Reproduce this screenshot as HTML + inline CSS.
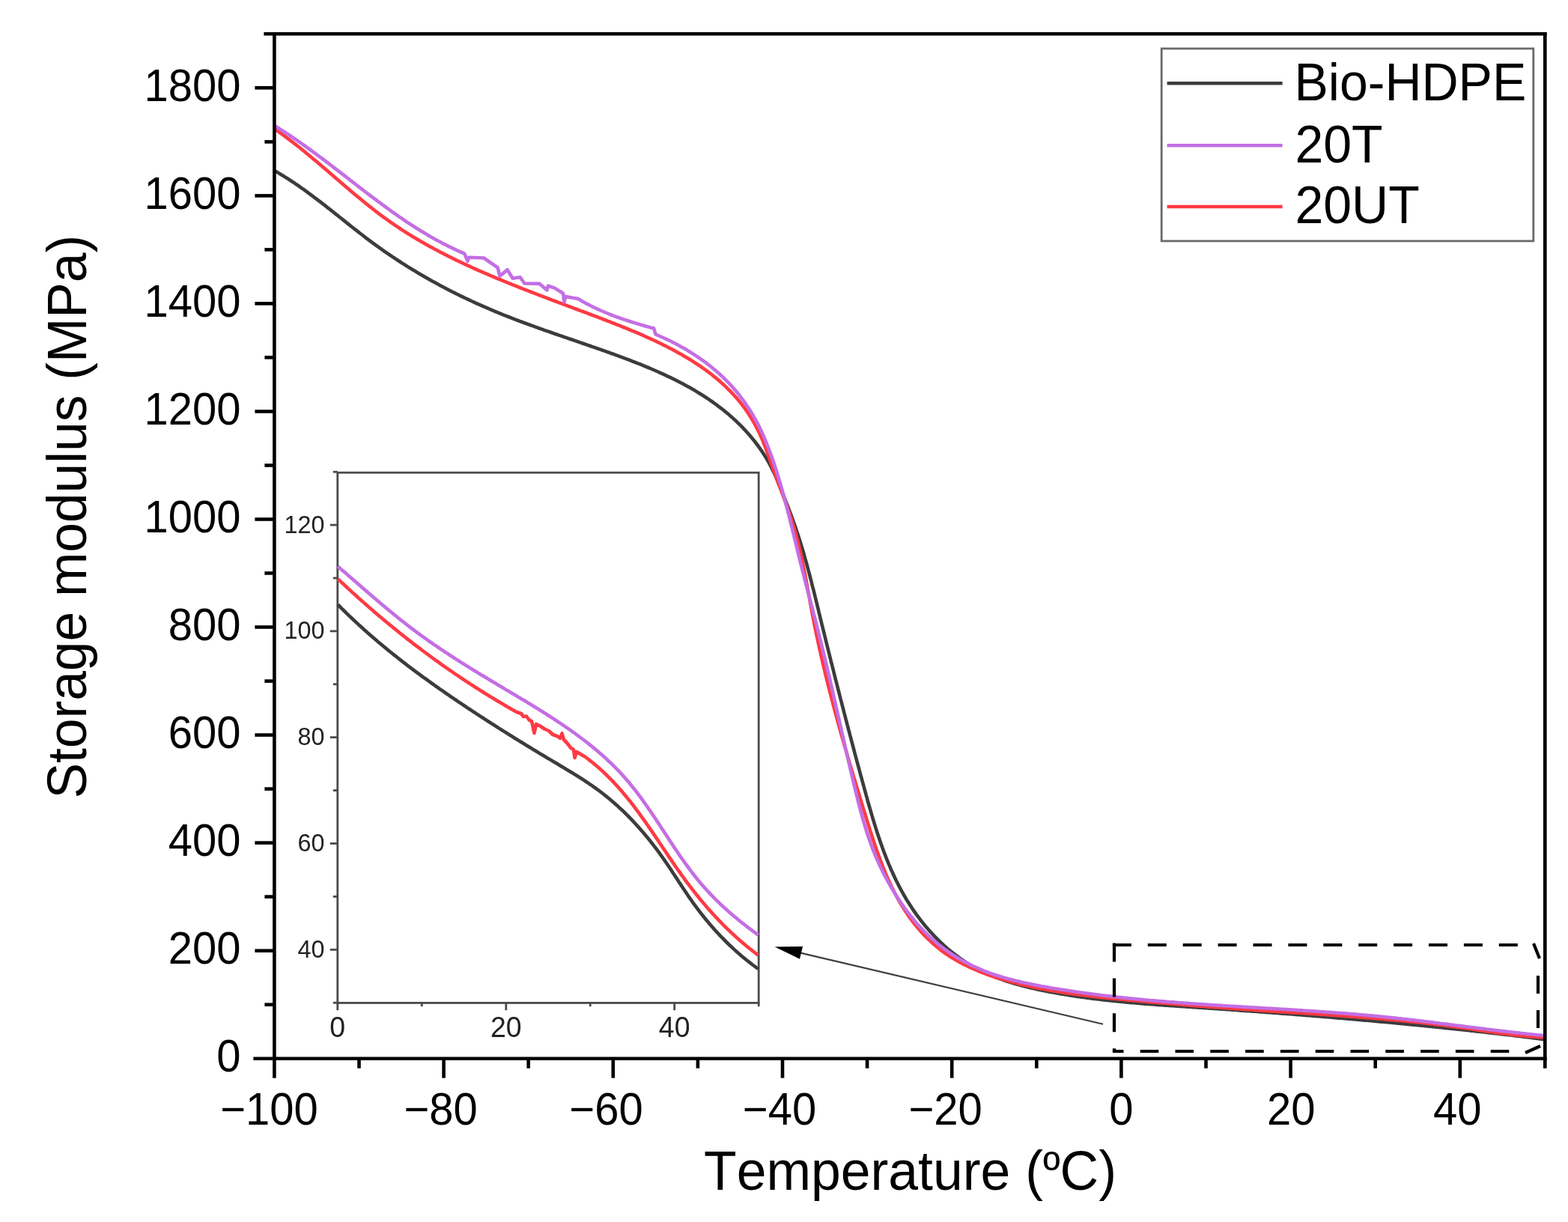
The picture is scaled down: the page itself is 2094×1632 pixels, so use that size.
<!DOCTYPE html>
<html><head><meta charset="utf-8"><title>Storage modulus vs Temperature</title>
<style>html,body{margin:0;padding:0;background:#fff;}svg text{font-kerning:none;}body{width:2094px;height:1632px;overflow:hidden;}svg{display:block;}</style>
</head><body>
<svg width="2094" height="1632" viewBox="0 0 2094 1632">
<rect width="2094" height="1632" fill="#ffffff"/>
<g>
<path d="M367.4 228.4 L369.6 229.6 L371.7 230.9 L373.9 232.2 L376 233.5 L378.1 234.8 L380.2 236.1 L382.4 237.4 L384.5 238.7 L386.6 240.1 L388.6 241.5 L390.7 242.8 L392.8 244.2 L394.8 245.6 L396.9 247 L399 248.4 L401 249.9 L403 251.3 L405.1 252.7 L407.1 254.2 L409.1 255.6 L411.1 257.1 L413.1 258.6 L415.1 260.1 L417.1 261.6 L419.1 263.1 L421.1 264.6 L423.1 266.1 L425.1 267.6 L427.1 269.1 L429.1 270.6 L431 272.2 L433 273.7 L435 275.2 L436.9 276.8 L438.9 278.3 L440.9 279.9 L442.8 281.4 L444.8 283 L446.7 284.5 L448.7 286.1 L450.7 287.6 L452.6 289.2 L454.6 290.8 L456.5 292.3 L458.5 293.9 L460.4 295.4 L462.4 297 L464.4 298.6 L466.3 300.1 L468.3 301.7 L470.2 303.2 L472.2 304.8 L474.2 306.3 L476.2 307.9 L478.1 309.4 L480.1 311 L482.1 312.5 L484.1 314 L486 315.5 L488 317.1 L490 318.6 L492 320.1 L494 321.6 L496 323.1 L498 324.6 L500.1 326.1 L502.1 327.6 L504.1 329 L506.1 330.5 L508.2 331.9 L510.2 333.4 L512.3 334.8 L514.3 336.3 L516.4 337.7 L518.5 339.1 L520.5 340.5 L522.6 341.9 L524.7 343.3 L526.8 344.7 L528.9 346.1 L531 347.5 L533 348.8 L535.2 350.2 L537.3 351.6 L539.4 352.9 L541.5 354.2 L543.6 355.6 L545.7 356.9 L547.9 358.2 L550 359.5 L552.1 360.8 L554.3 362.1 L556.4 363.4 L558.6 364.7 L560.8 366 L562.9 367.2 L565.1 368.5 L567.3 369.8 L569.4 371 L571.6 372.2 L573.8 373.5 L576 374.7 L578.2 375.9 L580.4 377.1 L582.5 378.3 L584.8 379.5 L587 380.7 L589.2 381.9 L591.4 383.1 L593.6 384.3 L595.8 385.4 L598 386.6 L600.3 387.7 L602.5 388.9 L604.7 390 L607 391.1 L609.2 392.2 L611.4 393.3 L613.7 394.5 L615.9 395.6 L618.2 396.6 L620.4 397.7 L622.7 398.8 L625 399.9 L627.2 400.9 L629.5 402 L631.8 403 L634 404.1 L636.3 405.1 L638.6 406.2 L640.9 407.2 L643.1 408.2 L645.4 409.2 L647.7 410.2 L650 411.2 L652.3 412.2 L654.6 413.2 L656.9 414.1 L659.2 415.1 L661.5 416.1 L663.8 417 L666.1 418 L668.4 418.9 L670.7 419.8 L673 420.8 L675.3 421.7 L677.7 422.6 L680 423.5 L682.3 424.4 L684.6 425.3 L686.9 426.2 L689.3 427.1 L691.6 428 L693.9 428.9 L696.3 429.7 L698.6 430.6 L700.9 431.5 L703.3 432.3 L705.6 433.2 L707.9 434 L710.3 434.9 L712.6 435.7 L715 436.6 L717.3 437.4 L719.6 438.3 L722 439.1 L724.3 439.9 L726.7 440.8 L729 441.6 L731.4 442.4 L733.7 443.2 L736.1 444 L738.4 444.9 L740.8 445.7 L743.2 446.5 L745.5 447.3 L747.9 448.1 L750.2 448.9 L752.6 449.8 L755 450.6 L757.3 451.4 L759.7 452.2 L762 453 L764.4 453.8 L766.8 454.6 L769.1 455.4 L771.5 456.2 L773.9 457.1 L776.2 457.9 L778.6 458.7 L781 459.5 L783.3 460.3 L785.7 461.1 L788.1 462 L790.4 462.8 L792.8 463.6 L795.2 464.4 L797.5 465.3 L799.9 466.1 L802.3 466.9 L804.6 467.8 L807 468.6 L809.4 469.4 L811.7 470.3 L814.1 471.1 L816.5 472 L818.9 472.8 L821.2 473.7 L823.6 474.6 L826 475.4 L828.3 476.3 L830.7 477.2 L833.1 478.1 L835.4 478.9 L837.8 479.8 L840.1 480.7 L842.5 481.6 L844.8 482.6 L847.2 483.5 L849.6 484.4 L851.9 485.3 L854.2 486.2 L856.6 487.2 L858.9 488.1 L861.3 489.1 L863.6 490.1 L865.9 491 L868.3 492 L870.6 493 L872.9 494 L875.2 495 L877.5 496 L879.8 497 L882.1 498.1 L884.4 499.1 L886.7 500.1 L889 501.2 L891.2 502.3 L893.5 503.3 L895.8 504.4 L898 505.5 L900.3 506.6 L902.5 507.8 L904.7 508.9 L907 510 L909.2 511.2 L911.4 512.3 L913.6 513.5 L915.8 514.7 L918 515.9 L920.2 517.1 L922.3 518.3 L924.5 519.6 L926.7 520.8 L928.8 522.1 L930.9 523.4 L933.1 524.7 L935.2 526 L937.3 527.3 L939.4 528.6 L941.5 530 L943.5 531.3 L945.6 532.7 L947.7 534.1 L949.7 535.5 L951.7 536.9 L953.7 538.4 L955.8 539.8 L957.7 541.3 L959.7 542.8 L961.7 544.3 L963.7 545.8 L965.6 547.3 L967.5 548.9 L969.5 550.5 L971.4 552 L973.3 553.6 L975.1 555.3 L977 556.9 L978.9 558.6 L980.7 560.2 L982.5 561.9 L984.3 563.7 L986.1 565.4 L987.9 567.1 L989.7 568.9 L991.4 570.7 L993.1 572.5 L994.9 574.3 L996.6 576.2 L998.2 578 L999.9 579.9 L1001.5 581.8 L1003.1 583.7 L1004.7 585.6 L1006.3 587.6 L1007.9 589.5 L1009.4 591.5 L1010.9 593.5 L1012.4 595.5 L1013.9 597.5 L1015.3 599.6 L1016.8 601.6 L1018.2 603.7 L1019.5 605.8 L1020.9 607.9 L1022.2 610 L1023.5 612.2 L1024.8 614.3 L1026 616.5 L1027.2 618.7 L1028.4 620.9 L1029.6 623.1 L1030.7 625.4 L1031.8 627.6 L1032.9 629.9 L1034 632.1 L1035 634.4 L1036 636.7 L1037 639 L1038 641.3 L1038.9 643.6 L1039.9 646 L1040.9 648.3 L1041.8 650.6 L1042.7 652.9 L1043.7 655.3 L1044.6 657.6 L1045.5 659.9 L1046.5 662.2 L1047.4 664.6 L1048.3 666.9 L1049.2 669.2 L1050.1 671.5 L1051.1 673.9 L1052 676.2 L1052.9 678.5 L1053.8 680.9 L1054.6 683.2 L1055.5 685.5 L1056.4 687.9 L1057.3 690.2 L1058.1 692.5 L1059 694.9 L1059.8 697.2 L1060.7 699.6 L1061.5 701.9 L1062.3 704.3 L1063.1 706.7 L1063.9 709 L1064.7 711.4 L1065.5 713.8 L1066.3 716.1 L1067 718.5 L1067.8 720.9 L1068.5 723.3 L1069.3 725.7 L1070 728.1 L1070.7 730.5 L1071.4 732.8 L1072.2 735.2 L1072.9 737.6 L1073.6 740 L1074.2 742.4 L1074.9 744.9 L1075.6 747.3 L1076.3 749.7 L1077 752.1 L1077.6 754.5 L1078.3 756.9 L1078.9 759.3 L1079.6 761.8 L1080.2 764.2 L1080.9 766.6 L1081.5 769 L1082.1 771.5 L1082.8 773.9 L1083.4 776.3 L1084 778.7 L1084.6 781.2 L1085.2 783.6 L1085.9 786 L1086.5 788.5 L1087.1 790.9 L1087.7 793.3 L1088.3 795.8 L1088.9 798.2 L1089.5 800.6 L1090.1 803.1 L1090.7 805.5 L1091.3 807.9 L1091.9 810.4 L1092.5 812.8 L1093.1 815.2 L1093.6 817.7 L1094.2 820.1 L1094.8 822.5 L1095.4 825 L1096 827.4 L1096.6 829.8 L1097.2 832.3 L1097.8 834.7 L1098.4 837.1 L1099 839.6 L1099.6 842 L1100.2 844.4 L1100.8 846.8 L1101.4 849.3 L1102 851.7 L1102.6 854.1 L1103.2 856.6 L1103.8 859 L1104.4 861.4 L1105 863.8 L1105.6 866.3 L1106.2 868.7 L1106.8 871.1 L1107.4 873.5 L1108 876 L1108.6 878.4 L1109.2 880.8 L1109.8 883.2 L1110.4 885.7 L1111.1 888.1 L1111.7 890.5 L1112.3 892.9 L1112.9 895.3 L1113.5 897.8 L1114.1 900.2 L1114.7 902.6 L1115.3 905 L1115.9 907.4 L1116.6 909.9 L1117.2 912.3 L1117.8 914.7 L1118.4 917.1 L1119 919.5 L1119.6 922 L1120.3 924.4 L1120.9 926.8 L1121.5 929.2 L1122.1 931.6 L1122.7 934 L1123.4 936.5 L1124 938.9 L1124.6 941.3 L1125.2 943.7 L1125.9 946.1 L1126.5 948.5 L1127.1 951 L1127.7 953.4 L1128.4 955.8 L1129 958.2 L1129.6 960.6 L1130.3 963.1 L1130.9 965.5 L1131.5 967.9 L1132.2 970.3 L1132.8 972.7 L1133.4 975.1 L1134.1 977.6 L1134.7 980 L1135.3 982.4 L1136 984.8 L1136.6 987.2 L1137.2 989.6 L1137.9 992.1 L1138.5 994.5 L1139.2 996.9 L1139.8 999.3 L1140.4 1001.7 L1141.1 1004.2 L1141.7 1006.6 L1142.4 1009 L1143 1011.4 L1143.7 1013.8 L1144.3 1016.3 L1145 1018.7 L1145.6 1021.1 L1146.3 1023.5 L1146.9 1025.9 L1147.6 1028.4 L1148.2 1030.8 L1148.9 1033.2 L1149.5 1035.6 L1150.2 1038 L1150.9 1040.5 L1151.5 1042.9 L1152.2 1045.3 L1152.8 1047.7 L1153.5 1050.2 L1154.2 1052.6 L1154.8 1055 L1155.5 1057.4 L1156.2 1059.9 L1156.8 1062.3 L1157.5 1064.7 L1158.2 1067.1 L1158.8 1069.6 L1159.5 1072 L1160.2 1074.4 L1160.9 1076.8 L1161.6 1079.2 L1162.3 1081.7 L1163 1084.1 L1163.7 1086.5 L1164.4 1088.9 L1165.1 1091.3 L1165.8 1093.7 L1166.6 1096.1 L1167.3 1098.5 L1168 1100.9 L1168.8 1103.3 L1169.5 1105.7 L1170.3 1108.1 L1171 1110.5 L1171.8 1112.9 L1172.6 1115.3 L1173.4 1117.7 L1174.2 1120 L1175 1122.4 L1175.8 1124.8 L1176.6 1127.1 L1177.5 1129.5 L1178.3 1131.8 L1179.2 1134.2 L1180 1136.5 L1180.9 1138.9 L1181.8 1141.2 L1182.7 1143.5 L1183.6 1145.9 L1184.5 1148.2 L1185.5 1150.5 L1186.4 1152.8 L1187.4 1155.1 L1188.4 1157.4 L1189.3 1159.7 L1190.3 1162 L1191.4 1164.2 L1192.4 1166.5 L1193.4 1168.8 L1194.5 1171 L1195.5 1173.3 L1196.6 1175.5 L1197.7 1177.7 L1198.9 1180 L1200 1182.2 L1201.1 1184.4 L1202.3 1186.6 L1203.5 1188.8 L1204.7 1191 L1205.9 1193.1 L1207.1 1195.3 L1208.4 1197.5 L1209.6 1199.6 L1210.9 1201.8 L1212.2 1203.9 L1213.6 1206 L1214.9 1208.1 L1216.3 1210.2 L1217.6 1212.3 L1219 1214.4 L1220.4 1216.5 L1221.9 1218.5 L1223.3 1220.6 L1224.8 1222.6 L1226.3 1224.6 L1227.8 1226.6 L1229.3 1228.6 L1230.9 1230.6 L1232.4 1232.6 L1234 1234.5 L1235.6 1236.5 L1237.2 1238.4 L1238.9 1240.3 L1240.5 1242.2 L1242.2 1244.1 L1243.9 1245.9 L1245.6 1247.8 L1247.3 1249.6 L1249 1251.4 L1250.8 1253.2 L1252.6 1255 L1254.3 1256.7 L1256.1 1258.5 L1258 1260.2 L1259.8 1261.9 L1261.7 1263.6 L1263.5 1265.2 L1265.4 1266.9 L1267.3 1268.5 L1269.2 1270.1 L1271.2 1271.6 L1273.1 1273.2 L1275.1 1274.7 L1277.1 1276.2 L1279.1 1277.7 L1281.1 1279.2 L1283.1 1280.6 L1285.2 1282 L1287.2 1283.4 L1289.3 1284.8 L1291.4 1286.1 L1293.5 1287.4 L1295.7 1288.7 L1297.8 1290 L1299.9 1291.2 L1302.1 1292.4 L1304.3 1293.6 L1306.5 1294.7 L1308.7 1295.9 L1310.9 1297 L1313.2 1298.1 L1315.4 1299.1 L1317.7 1300.1 L1320 1301.2 L1322.3 1302.1 L1324.6 1303.1 L1326.9 1304 L1329.2 1305 L1331.5 1305.9 L1333.9 1306.7 L1336.2 1307.6 L1338.6 1308.4 L1341 1309.2 L1343.4 1310 L1345.7 1310.8 L1348.1 1311.6 L1350.5 1312.3 L1353 1313.1 L1355.4 1313.8 L1357.8 1314.5 L1360.2 1315.1 L1362.7 1315.8 L1365.1 1316.5 L1367.6 1317.1 L1370 1317.7 L1372.5 1318.3 L1374.9 1318.9 L1377.4 1319.5 L1379.9 1320.1 L1382.3 1320.6 L1384.8 1321.2 L1387.3 1321.7 L1389.8 1322.2 L1392.2 1322.7 L1394.7 1323.2 L1397.2 1323.7 L1399.7 1324.2 L1402.2 1324.7 L1404.7 1325.2 L1407.1 1325.6 L1409.6 1326.1 L1412.1 1326.5 L1414.6 1326.9 L1417.1 1327.4 L1419.5 1327.8 L1422 1328.2 L1424.5 1328.6 L1427 1329 L1429.5 1329.4 L1432 1329.8 L1434.4 1330.2 L1436.9 1330.6 L1439.4 1330.9 L1441.9 1331.3 L1444.4 1331.6 L1446.9 1332 L1449.4 1332.3 L1451.8 1332.6 L1454.3 1333 L1456.8 1333.3 L1459.3 1333.6 L1461.8 1333.9 L1464.3 1334.2 L1466.7 1334.5 L1469.2 1334.8 L1471.7 1335.1 L1474.2 1335.4 L1476.7 1335.7 L1479.2 1336 L1481.7 1336.2 L1484.1 1336.5 L1486.6 1336.7 L1489.1 1337 L1491.6 1337.3 L1494.1 1337.5 L1496.6 1337.7 L1499.1 1338 L1501.5 1338.2 L1504 1338.4 L1506.5 1338.7 L1509 1338.9 L1511.5 1339.1 L1514 1339.3 L1516.5 1339.5 L1519 1339.8 L1521.4 1340 L1523.9 1340.2 L1526.4 1340.4 L1528.9 1340.6 L1531.4 1340.8 L1533.9 1341 L1536.4 1341.1 L1538.9 1341.3 L1541.4 1341.5 L1543.8 1341.7 L1546.3 1341.9 L1548.8 1342.1 L1551.3 1342.3 L1553.8 1342.4 L1556.3 1342.6 L1558.8 1342.8 L1561.3 1342.9 L1563.8 1343.1 L1566.2 1343.3 L1568.7 1343.5 L1571.2 1343.6 L1573.7 1343.8 L1576.2 1344 L1578.7 1344.1 L1581.2 1344.3 L1583.7 1344.5 L1586.2 1344.6 L1588.7 1344.8 L1591.1 1345 L1593.6 1345.1 L1596.1 1345.3 L1598.6 1345.4 L1601.1 1345.6 L1603.6 1345.8 L1606.1 1345.9 L1608.6 1346.1 L1611.1 1346.3 L1613.6 1346.4 L1616.1 1346.6 L1618.6 1346.8 L1621.1 1347 L1623.5 1347.1 L1626 1347.3 L1628.5 1347.5 L1631 1347.6 L1633.5 1347.8 L1636 1348 L1638.5 1348.2 L1641 1348.3 L1643.5 1348.5 L1646 1348.7 L1648.5 1348.8 L1651 1349 L1653.5 1349.2 L1656 1349.4 L1658.5 1349.6 L1660.9 1349.7 L1663.4 1349.9 L1665.9 1350.1 L1668.4 1350.3 L1670.9 1350.4 L1673.4 1350.6 L1675.9 1350.8 L1678.4 1351 L1680.9 1351.2 L1683.4 1351.4 L1685.9 1351.5 L1688.4 1351.7 L1690.9 1351.9 L1693.4 1352.1 L1695.9 1352.3 L1698.4 1352.5 L1700.9 1352.6 L1703.4 1352.8 L1705.9 1353 L1708.3 1353.2 L1710.8 1353.4 L1713.3 1353.6 L1715.8 1353.8 L1718.3 1354 L1720.8 1354.2 L1723.3 1354.3 L1725.8 1354.5 L1728.3 1354.7 L1730.8 1354.9 L1733.3 1355.1 L1735.8 1355.3 L1738.3 1355.5 L1740.8 1355.7 L1743.3 1355.9 L1745.8 1356.1 L1748.3 1356.3 L1750.8 1356.5 L1753.3 1356.7 L1755.8 1356.9 L1758.3 1357.1 L1760.8 1357.3 L1763.3 1357.5 L1765.7 1357.7 L1768.2 1357.9 L1770.7 1358.1 L1773.2 1358.3 L1775.7 1358.5 L1778.2 1358.7 L1780.7 1358.9 L1783.2 1359.2 L1785.7 1359.4 L1788.2 1359.6 L1790.7 1359.8 L1793.2 1360 L1795.7 1360.2 L1798.2 1360.4 L1800.7 1360.6 L1803.2 1360.8 L1805.7 1361.1 L1808.2 1361.3 L1810.7 1361.5 L1813.2 1361.7 L1815.7 1361.9 L1818.1 1362.1 L1820.6 1362.4 L1823.1 1362.6 L1825.6 1362.8 L1828.1 1363 L1830.6 1363.3 L1833.1 1363.5 L1835.6 1363.7 L1838.1 1363.9 L1840.6 1364.2 L1843.1 1364.4 L1845.6 1364.6 L1848.1 1364.8 L1850.6 1365.1 L1853.1 1365.3 L1855.6 1365.5 L1858.1 1365.8 L1860.5 1366 L1863 1366.2 L1865.5 1366.5 L1868 1366.7 L1870.5 1366.9 L1873 1367.2 L1875.5 1367.4 L1878 1367.6 L1880.5 1367.9 L1883 1368.1 L1885.5 1368.4 L1888 1368.6 L1890.5 1368.8 L1893 1369.1 L1895.4 1369.3 L1897.9 1369.6 L1900.4 1369.8 L1902.9 1370.1 L1905.4 1370.3 L1907.9 1370.6 L1910.4 1370.8 L1912.9 1371.1 L1915.4 1371.3 L1917.9 1371.6 L1920.4 1371.8 L1922.8 1372.1 L1925.3 1372.3 L1927.8 1372.6 L1930.3 1372.9 L1932.8 1373.1 L1935.3 1373.4 L1937.8 1373.6 L1940.3 1373.9 L1942.8 1374.2 L1945.3 1374.4 L1947.7 1374.7 L1950.2 1375 L1952.7 1375.2 L1955.2 1375.5 L1957.7 1375.8 L1960.2 1376 L1962.7 1376.3 L1965.2 1376.6 L1967.6 1376.8 L1970.1 1377.1 L1972.6 1377.4 L1975.1 1377.7 L1977.6 1378 L1980.1 1378.2 L1982.6 1378.5 L1985.1 1378.8 L1987.5 1379.1 L1990 1379.4 L1992.5 1379.6 L1995 1379.9 L1997.5 1380.2 L2000 1380.5 L2002.4 1380.8 L2004.9 1381.1 L2007.4 1381.4 L2009.9 1381.6 L2012.4 1381.9 L2014.9 1382.2 L2017.3 1382.5 L2019.8 1382.8 L2022.3 1383.1 L2024.8 1383.4 L2027.3 1383.7 L2029.8 1384 L2032.2 1384.3 L2034.7 1384.6 L2037.2 1384.9 L2039.7 1385.2 L2042.2 1385.5 L2044.6 1385.8 L2047.1 1386.1 L2049.6 1386.4 L2052.1 1386.8 L2054.6 1387.1 L2057 1387.4 L2059.5 1387.7 L2062 1388" fill="none" stroke="#3c3c3c" stroke-width="4.6" stroke-linejoin="round" stroke-linecap="butt"/>
<path d="M367.4 172.7 L369.4 174.1 L371.5 175.5 L373.5 177 L375.5 178.4 L377.5 179.9 L379.5 181.3 L381.5 182.8 L383.5 184.3 L385.5 185.8 L387.5 187.3 L389.5 188.8 L391.5 190.3 L393.4 191.9 L395.4 193.4 L397.3 195 L399.3 196.5 L401.2 198.1 L403.2 199.6 L405.1 201.2 L407.1 202.8 L409 204.4 L410.9 206 L412.9 207.6 L414.8 209.2 L416.7 210.8 L418.6 212.4 L420.6 214 L422.5 215.6 L424.4 217.2 L426.3 218.8 L428.2 220.5 L430.1 222.1 L432 223.7 L434 225.4 L435.9 227 L437.8 228.6 L439.7 230.3 L441.6 231.9 L443.5 233.6 L445.4 235.2 L447.3 236.9 L449.2 238.5 L451.1 240.1 L453 241.8 L454.9 243.4 L456.8 245.1 L458.7 246.7 L460.6 248.3 L462.5 250 L464.5 251.6 L466.4 253.2 L468.3 254.9 L470.2 256.5 L472.1 258.1 L474.1 259.7 L476 261.3 L477.9 262.9 L479.9 264.5 L481.8 266.1 L483.7 267.7 L485.7 269.3 L487.6 270.9 L489.6 272.5 L491.5 274 L493.5 275.6 L495.5 277.1 L497.4 278.7 L499.4 280.2 L501.4 281.8 L503.4 283.3 L505.3 284.8 L507.3 286.3 L509.3 287.8 L511.4 289.3 L513.4 290.8 L515.4 292.2 L517.4 293.7 L519.4 295.1 L521.5 296.6 L523.5 298 L525.6 299.4 L527.6 300.8 L529.7 302.2 L531.8 303.6 L533.9 305 L535.9 306.4 L538 307.7 L540.1 309.1 L542.2 310.4 L544.3 311.7 L546.5 313.1 L548.6 314.4 L550.7 315.7 L552.8 317 L555 318.2 L557.1 319.5 L559.3 320.8 L561.4 322 L563.6 323.3 L565.8 324.5 L567.9 325.8 L570.1 327 L572.3 328.2 L574.5 329.4 L576.7 330.6 L578.9 331.8 L581.1 333 L583.3 334.1 L585.5 335.3 L587.7 336.5 L589.9 337.6 L592.1 338.8 L594.3 339.9 L596.6 341 L598.8 342.2 L601 343.3 L603.3 344.4 L605.5 345.5 L607.8 346.6 L610 347.7 L612.3 348.8 L614.6 349.9 L616.8 350.9 L619.1 352 L621.4 353.1 L623.6 354.1 L625.9 355.2 L628.2 356.2 L630.5 357.3 L632.8 358.3 L635.1 359.3 L637.3 360.3 L639.6 361.4 L641.9 362.4 L644.2 363.4 L646.5 364.4 L648.8 365.4 L651.2 366.4 L653.5 367.4 L655.8 368.4 L658.1 369.3 L660.4 370.3 L662.7 371.3 L665 372.3 L667.4 373.2 L669.7 374.2 L672 375.1 L674.3 376.1 L676.7 377 L679 378 L681.3 378.9 L683.7 379.9 L686 380.8 L688.3 381.7 L690.7 382.7 L693 383.6 L695.3 384.5 L697.7 385.5 L700 386.4 L702.4 387.3 L704.7 388.2 L707 389.1 L709.4 390 L711.7 390.9 L714.1 391.8 L716.4 392.7 L718.7 393.6 L721.1 394.5 L723.4 395.4 L725.8 396.3 L728.1 397.2 L730.5 398.1 L732.8 399 L735.1 399.9 L737.5 400.8 L739.8 401.7 L742.2 402.5 L744.5 403.4 L746.8 404.3 L749.2 405.2 L751.5 406.1 L753.8 406.9 L756.2 407.8 L758.5 408.7 L760.8 409.5 L763.2 410.4 L765.5 411.3 L767.8 412.2 L770.2 413 L772.5 413.9 L774.8 414.8 L777.1 415.6 L779.4 416.5 L781.8 417.3 L784.1 418.2 L786.4 419.1 L788.7 420 L791 420.8 L793.3 421.7 L795.7 422.6 L798 423.4 L800.3 424.3 L802.6 425.2 L804.9 426.1 L807.2 427 L809.5 427.9 L811.9 428.8 L814.2 429.7 L816.5 430.6 L818.8 431.5 L821.1 432.4 L823.4 433.3 L825.7 434.2 L828.1 435.1 L830.4 436.1 L832.7 437 L835 437.9 L837.3 438.9 L839.6 439.8 L842 440.8 L844.3 441.8 L846.6 442.7 L848.9 443.7 L851.2 444.7 L853.6 445.7 L855.9 446.7 L858.2 447.7 L860.5 448.7 L862.8 449.8 L865.1 450.8 L867.5 451.9 L869.8 452.9 L872.1 454 L874.4 455 L876.7 456.1 L878.9 457.2 L881.2 458.3 L883.5 459.4 L885.8 460.6 L888.1 461.7 L890.3 462.8 L892.6 464 L894.8 465.2 L897.1 466.3 L899.3 467.5 L901.6 468.7 L903.8 469.9 L906 471.2 L908.2 472.4 L910.4 473.6 L912.6 474.9 L914.8 476.2 L916.9 477.5 L919.1 478.8 L921.3 480.1 L923.4 481.4 L925.5 482.7 L927.6 484.1 L929.7 485.5 L931.8 486.8 L933.9 488.2 L936 489.7 L938 491.1 L940.1 492.5 L942.1 494 L944.1 495.5 L946.1 496.9 L948.1 498.5 L950.1 500 L952 501.5 L954 503.1 L955.9 504.6 L957.8 506.2 L959.7 507.8 L961.6 509.5 L963.4 511.1 L965.2 512.8 L967.1 514.4 L968.9 516.1 L970.6 517.8 L972.4 519.6 L974.2 521.3 L975.9 523.1 L977.6 524.9 L979.3 526.7 L980.9 528.5 L982.6 530.3 L984.2 532.2 L985.8 534.1 L987.4 536 L988.9 537.9 L990.5 539.9 L992 541.8 L993.5 543.8 L994.9 545.8 L996.4 547.9 L997.8 549.9 L999.2 552 L1000.5 554 L1001.9 556.1 L1003.2 558.3 L1004.5 560.4 L1005.8 562.5 L1007 564.7 L1008.2 566.9 L1009.4 569.1 L1010.6 571.3 L1011.7 573.5 L1012.8 575.8 L1013.9 578 L1015 580.3 L1016 582.6 L1017 584.9 L1018 587.2 L1019 589.5 L1019.9 591.8 L1020.8 594.1 L1021.7 596.5 L1022.6 598.8 L1023.5 601.2 L1024.4 603.5 L1025.3 605.9 L1026.1 608.3 L1027 610.6 L1027.8 613 L1028.7 615.4 L1029.5 617.8 L1030.4 620.1 L1031.2 622.5 L1032 624.9 L1032.9 627.3 L1033.7 629.6 L1034.6 632 L1035.5 634.3 L1036.3 636.7 L1037.2 639.1 L1038.1 641.4 L1039 643.8 L1039.8 646.1 L1040.7 648.5 L1041.6 650.8 L1042.5 653.2 L1043.4 655.5 L1044.3 657.9 L1045.1 660.2 L1046 662.6 L1046.9 664.9 L1047.7 667.3 L1048.6 669.6 L1049.5 672 L1050.3 674.3 L1051.2 676.7 L1052 679.1 L1052.8 681.4 L1053.6 683.8 L1054.4 686.1 L1055.2 688.5 L1056 690.9 L1056.8 693.2 L1057.6 695.6 L1058.3 698 L1059.1 700.4 L1059.8 702.8 L1060.5 705.2 L1061.2 707.6 L1061.9 710 L1062.5 712.4 L1063.2 714.8 L1063.8 717.2 L1064.5 719.6 L1065.1 722 L1065.7 724.4 L1066.3 726.8 L1066.9 729.3 L1067.5 731.7 L1068.1 734.1 L1068.6 736.6 L1069.2 739 L1069.7 741.4 L1070.3 743.9 L1070.8 746.3 L1071.3 748.8 L1071.8 751.2 L1072.3 753.7 L1072.8 756.1 L1073.3 758.6 L1073.8 761 L1074.3 763.5 L1074.8 765.9 L1075.3 768.4 L1075.7 770.9 L1076.2 773.3 L1076.7 775.8 L1077.1 778.3 L1077.6 780.7 L1078.1 783.2 L1078.5 785.7 L1079 788.1 L1079.4 790.6 L1079.9 793.1 L1080.3 795.5 L1080.8 798 L1081.2 800.5 L1081.7 802.9 L1082.1 805.4 L1082.6 807.9 L1083.1 810.3 L1083.5 812.8 L1084 815.3 L1084.4 817.7 L1084.9 820.2 L1085.4 822.7 L1085.9 825.1 L1086.3 827.6 L1086.8 830.1 L1087.3 832.5 L1087.8 835 L1088.3 837.4 L1088.8 839.9 L1089.3 842.3 L1089.8 844.8 L1090.3 847.3 L1090.8 849.7 L1091.4 852.2 L1091.9 854.6 L1092.4 857.1 L1092.9 859.5 L1093.5 862 L1094 864.4 L1094.6 866.9 L1095.1 869.3 L1095.7 871.8 L1096.2 874.2 L1096.8 876.6 L1097.3 879.1 L1097.9 881.5 L1098.5 884 L1099 886.4 L1099.6 888.9 L1100.2 891.3 L1100.8 893.7 L1101.4 896.2 L1101.9 898.6 L1102.5 901 L1103.1 903.5 L1103.7 905.9 L1104.3 908.3 L1104.9 910.8 L1105.5 913.2 L1106.1 915.6 L1106.8 918.1 L1107.4 920.5 L1108 922.9 L1108.6 925.3 L1109.2 927.8 L1109.9 930.2 L1110.5 932.6 L1111.1 935 L1111.8 937.5 L1112.4 939.9 L1113 942.3 L1113.7 944.7 L1114.3 947.2 L1115 949.6 L1115.6 952 L1116.3 954.4 L1116.9 956.8 L1117.6 959.2 L1118.3 961.7 L1118.9 964.1 L1119.6 966.5 L1120.3 968.9 L1120.9 971.3 L1121.6 973.7 L1122.3 976.1 L1122.9 978.6 L1123.6 981 L1124.3 983.4 L1125 985.8 L1125.7 988.2 L1126.4 990.6 L1127 993 L1127.7 995.4 L1128.4 997.8 L1129.1 1000.2 L1129.8 1002.6 L1130.5 1005.1 L1131.2 1007.5 L1131.9 1009.9 L1132.6 1012.3 L1133.3 1014.7 L1134 1017.1 L1134.7 1019.5 L1135.4 1021.9 L1136.2 1024.3 L1136.9 1026.7 L1137.6 1029.1 L1138.3 1031.5 L1139 1033.9 L1139.7 1036.3 L1140.4 1038.7 L1141.2 1041.1 L1141.9 1043.5 L1142.6 1045.9 L1143.3 1048.3 L1144.1 1050.7 L1144.8 1053.1 L1145.5 1055.4 L1146.2 1057.8 L1147 1060.2 L1147.7 1062.6 L1148.4 1065 L1149.2 1067.4 L1149.9 1069.8 L1150.6 1072.2 L1151.4 1074.6 L1152.1 1077 L1152.8 1079.4 L1153.6 1081.8 L1154.3 1084.2 L1155 1086.5 L1155.8 1088.9 L1156.5 1091.3 L1157.3 1093.7 L1158 1096.1 L1158.7 1098.5 L1159.5 1100.9 L1160.2 1103.3 L1161 1105.7 L1161.7 1108 L1162.5 1110.4 L1163.2 1112.8 L1164 1115.2 L1164.8 1117.6 L1165.6 1119.9 L1166.3 1122.3 L1167.1 1124.7 L1167.9 1127 L1168.7 1129.4 L1169.5 1131.8 L1170.3 1134.1 L1171.2 1136.5 L1172 1138.8 L1172.8 1141.2 L1173.7 1143.5 L1174.6 1145.9 L1175.4 1148.2 L1176.3 1150.6 L1177.2 1152.9 L1178.1 1155.2 L1179 1157.5 L1180 1159.9 L1180.9 1162.2 L1181.9 1164.5 L1182.8 1166.8 L1183.8 1169.1 L1184.8 1171.4 L1185.8 1173.7 L1186.9 1176 L1187.9 1178.3 L1189 1180.5 L1190.1 1182.8 L1191.1 1185.1 L1192.3 1187.3 L1193.4 1189.5 L1194.5 1191.8 L1195.7 1194 L1196.9 1196.2 L1198.1 1198.4 L1199.3 1200.6 L1200.5 1202.8 L1201.8 1205 L1203 1207.1 L1204.3 1209.3 L1205.6 1211.4 L1207 1213.5 L1208.3 1215.7 L1209.7 1217.8 L1211.1 1219.8 L1212.5 1221.9 L1213.9 1224 L1215.4 1226 L1216.9 1228 L1218.3 1230 L1219.9 1232 L1221.4 1234 L1223 1235.9 L1224.6 1237.9 L1226.2 1239.8 L1227.8 1241.7 L1229.4 1243.6 L1231.1 1245.4 L1232.8 1247.3 L1234.5 1249.1 L1236.3 1250.9 L1238.1 1252.7 L1239.8 1254.4 L1241.7 1256.2 L1243.5 1257.9 L1245.3 1259.6 L1247.2 1261.2 L1249.1 1262.8 L1251 1264.5 L1253 1266 L1254.9 1267.6 L1256.9 1269.1 L1258.9 1270.6 L1260.9 1272.1 L1262.9 1273.5 L1265 1274.9 L1267.1 1276.3 L1269.1 1277.7 L1271.2 1279 L1273.4 1280.3 L1275.5 1281.6 L1277.7 1282.8 L1279.8 1284.1 L1282 1285.3 L1284.2 1286.5 L1286.4 1287.6 L1288.7 1288.7 L1290.9 1289.8 L1293.2 1290.9 L1295.4 1292 L1297.7 1293 L1300 1294 L1302.3 1295 L1304.6 1296 L1306.9 1297 L1309.3 1297.9 L1311.6 1298.8 L1313.9 1299.7 L1316.3 1300.6 L1318.7 1301.5 L1321 1302.3 L1323.4 1303.1 L1325.8 1303.9 L1328.2 1304.7 L1330.6 1305.5 L1333 1306.3 L1335.4 1307 L1337.8 1307.7 L1340.3 1308.4 L1342.7 1309.1 L1345.1 1309.8 L1347.5 1310.5 L1350 1311.2 L1352.4 1311.8 L1354.8 1312.5 L1357.3 1313.1 L1359.7 1313.7 L1362.2 1314.3 L1364.6 1314.9 L1367 1315.5 L1369.5 1316 L1371.9 1316.6 L1374.4 1317.1 L1376.8 1317.7 L1379.3 1318.2 L1381.7 1318.7 L1384.2 1319.2 L1386.7 1319.7 L1389.1 1320.2 L1391.6 1320.6 L1394 1321.1 L1396.5 1321.6 L1399 1322 L1401.4 1322.4 L1403.9 1322.9 L1406.4 1323.3 L1408.8 1323.7 L1411.3 1324.1 L1413.8 1324.5 L1416.2 1324.9 L1418.7 1325.3 L1421.2 1325.7 L1423.7 1326 L1426.1 1326.4 L1428.6 1326.7 L1431.1 1327.1 L1433.6 1327.4 L1436.1 1327.8 L1438.5 1328.1 L1441 1328.4 L1443.5 1328.7 L1446 1329 L1448.5 1329.3 L1451 1329.6 L1453.4 1329.9 L1455.9 1330.2 L1458.4 1330.5 L1460.9 1330.8 L1463.4 1331.1 L1465.9 1331.4 L1468.4 1331.6 L1470.9 1331.9 L1473.3 1332.2 L1475.8 1332.4 L1478.3 1332.7 L1480.8 1332.9 L1483.3 1333.2 L1485.8 1333.4 L1488.3 1333.7 L1490.8 1333.9 L1493.3 1334.2 L1495.8 1334.4 L1498.3 1334.6 L1500.8 1334.9 L1503.3 1335.1 L1505.8 1335.4 L1508.2 1335.6 L1510.7 1335.8 L1513.2 1336 L1515.7 1336.3 L1518.2 1336.5 L1520.7 1336.7 L1523.2 1337 L1525.7 1337.2 L1528.2 1337.4 L1530.7 1337.6 L1533.2 1337.9 L1535.7 1338.1 L1538.2 1338.3 L1540.7 1338.5 L1543.2 1338.7 L1545.7 1339 L1548.2 1339.2 L1550.7 1339.4 L1553.2 1339.6 L1555.7 1339.8 L1558.2 1340 L1560.7 1340.2 L1563.2 1340.4 L1565.6 1340.6 L1568.1 1340.8 L1570.6 1341.1 L1573.1 1341.3 L1575.6 1341.5 L1578.1 1341.7 L1580.6 1341.9 L1583.1 1342.1 L1585.6 1342.3 L1588.1 1342.5 L1590.6 1342.7 L1593.1 1342.9 L1595.6 1343.1 L1598.1 1343.2 L1600.6 1343.4 L1603.1 1343.6 L1605.6 1343.8 L1608.1 1344 L1610.6 1344.2 L1613.1 1344.4 L1615.6 1344.6 L1618.1 1344.8 L1620.6 1345 L1623.1 1345.1 L1625.6 1345.3 L1628.1 1345.5 L1630.6 1345.7 L1633.1 1345.9 L1635.6 1346.1 L1638.1 1346.3 L1640.6 1346.4 L1643.1 1346.6 L1645.6 1346.8 L1648.1 1347 L1650.6 1347.1 L1653.1 1347.3 L1655.6 1347.5 L1658.1 1347.7 L1660.6 1347.9 L1663.1 1348 L1665.6 1348.2 L1668.1 1348.4 L1670.6 1348.5 L1673.1 1348.7 L1675.6 1348.9 L1678.1 1349.1 L1680.6 1349.2 L1683.1 1349.4 L1685.6 1349.6 L1688.1 1349.7 L1690.6 1349.9 L1693.1 1350.1 L1695.6 1350.2 L1698.1 1350.4 L1700.6 1350.6 L1703.1 1350.7 L1705.6 1350.9 L1708.1 1351.1 L1710.6 1351.2 L1713.1 1351.4 L1715.6 1351.5 L1718.1 1351.7 L1720.6 1351.9 L1723.1 1352 L1725.6 1352.2 L1728.1 1352.4 L1730.6 1352.5 L1733.1 1352.7 L1735.6 1352.8 L1738.1 1353 L1740.6 1353.2 L1743.1 1353.3 L1745.6 1353.5 L1748.1 1353.7 L1750.6 1353.8 L1753.1 1354 L1755.6 1354.2 L1758.1 1354.3 L1760.6 1354.5 L1763.1 1354.7 L1765.6 1354.8 L1768.1 1355 L1770.6 1355.2 L1773.1 1355.3 L1775.6 1355.5 L1778.1 1355.7 L1780.6 1355.8 L1783.1 1356 L1785.6 1356.2 L1788.1 1356.4 L1790.6 1356.5 L1793.1 1356.7 L1795.6 1356.9 L1798.1 1357.1 L1800.6 1357.3 L1803.1 1357.4 L1805.6 1357.6 L1808.1 1357.8 L1810.6 1358 L1813.1 1358.2 L1815.6 1358.4 L1818.1 1358.6 L1820.6 1358.8 L1823.1 1358.9 L1825.6 1359.1 L1828.1 1359.3 L1830.6 1359.5 L1833.1 1359.7 L1835.5 1359.9 L1838 1360.2 L1840.5 1360.4 L1843 1360.6 L1845.5 1360.8 L1848 1361 L1850.5 1361.2 L1853 1361.4 L1855.5 1361.7 L1858 1361.9 L1860.5 1362.1 L1863 1362.3 L1865.5 1362.6 L1868 1362.8 L1870.5 1363 L1873 1363.3 L1875.5 1363.5 L1877.9 1363.8 L1880.4 1364 L1882.9 1364.2 L1885.4 1364.5 L1887.9 1364.8 L1890.4 1365 L1892.9 1365.3 L1895.4 1365.5 L1897.9 1365.8 L1900.4 1366.1 L1902.8 1366.3 L1905.3 1366.6 L1907.8 1366.9 L1910.3 1367.2 L1912.8 1367.5 L1915.3 1367.8 L1917.8 1368.1 L1920.3 1368.4 L1922.7 1368.7 L1925.2 1369 L1927.7 1369.3 L1930.2 1369.6 L1932.7 1369.9 L1935.2 1370.2 L1937.6 1370.5 L1940.1 1370.9 L1942.6 1371.2 L1945.1 1371.5 L1947.6 1371.9 L1950.1 1372.2 L1952.5 1372.5 L1955 1372.9 L1957.5 1373.2 L1960 1373.6 L1962.5 1374 L1964.9 1374.3 L1967.4 1374.7 L1969.9 1375 L1972.4 1375.4 L1974.9 1375.8 L1977.3 1376.1 L1979.8 1376.5 L1982.3 1376.9 L1984.8 1377.2 L1987.3 1377.6 L1989.7 1377.9 L1992.2 1378.3 L1994.7 1378.7 L1997.2 1379 L1999.7 1379.3 L2002.2 1379.7 L2004.6 1380 L2007.1 1380.4 L2009.6 1380.7 L2012.1 1381 L2014.6 1381.3 L2017.1 1381.6 L2019.5 1381.9 L2022 1382.2 L2024.5 1382.5 L2027 1382.8 L2029.5 1383 L2032 1383.3 L2034.5 1383.5 L2037 1383.8 L2039.5 1384 L2042 1384.2 L2044.5 1384.4 L2047 1384.6 L2049.5 1384.8 L2052 1385 L2054.5 1385.1 L2057 1385.3 L2059.5 1385.4 L2062 1385.5" fill="none" stroke="#ff3a44" stroke-width="4.6" stroke-linejoin="round" stroke-linecap="butt"/>
<path d="M367.4 168.4 L369.6 169.7 L371.7 171 L373.8 172.4 L376 173.7 L378.1 175.1 L380.2 176.5 L382.3 177.8 L384.4 179.2 L386.5 180.6 L388.6 182 L390.7 183.4 L392.8 184.8 L394.9 186.2 L397 187.7 L399 189.1 L401.1 190.5 L403.2 192 L405.2 193.5 L407.3 194.9 L409.3 196.4 L411.4 197.9 L413.4 199.3 L415.5 200.8 L417.5 202.3 L419.5 203.8 L421.6 205.3 L423.6 206.8 L425.6 208.3 L427.6 209.8 L429.7 211.3 L431.7 212.8 L433.7 214.4 L435.7 215.9 L437.7 217.4 L439.7 219 L441.7 220.5 L443.7 222 L445.7 223.6 L447.7 225.1 L449.7 226.6 L451.7 228.2 L453.7 229.7 L455.7 231.3 L457.7 232.8 L459.7 234.4 L461.7 235.9 L463.7 237.5 L465.7 239 L467.7 240.6 L469.7 242.1 L471.7 243.7 L473.7 245.2 L475.7 246.8 L477.6 248.3 L479.6 249.9 L481.6 251.4 L483.6 252.9 L485.6 254.5 L487.6 256 L489.6 257.5 L491.7 259.1 L493.7 260.6 L495.7 262.1 L497.7 263.7 L499.7 265.2 L501.7 266.7 L503.7 268.2 L505.7 269.7 L507.8 271.2 L509.8 272.7 L511.8 274.2 L513.9 275.7 L515.9 277.2 L517.9 278.7 L520 280.2 L522 281.6 L524.1 283.1 L526.1 284.5 L528.2 286 L530.3 287.4 L532.3 288.9 L534.4 290.3 L536.5 291.7 L538.6 293.2 L540.6 294.6 L542.7 296 L544.8 297.4 L546.9 298.7 L549 300.1 L551.1 301.5 L553.3 302.9 L555.4 304.2 L557.5 305.6 L559.7 306.9 L561.8 308.2 L564 309.5 L566.1 310.8 L568.3 312.1 L570.4 313.4 L572.6 314.7 L574.8 316 L577 317.2 L579.2 318.5 L581.4 319.7 L583.6 320.9 L585.8 322.1 L588.1 323.3 L590.3 324.5 L592.6 325.7 L594.8 326.8 L597.1 328 L599.3 329.1 L601.6 330.2 L603.9 331.3 L606.2 332.4 L608.5 333.5 L610.8 334.6 L613.2 335.6 L615.5 336.7 L617.8 337.7 L620.2 338.7 L624.5 348.8 L626 343.8 L646 344.5 L664.6 357.4 L667.5 368.8 L677.5 360.2 L684.7 371.7 L694.7 370.3 L700.5 378.5 L720.5 378.9 L730.5 387.4 L732 381.7 L740.6 384.6 L752 391.7 L753.5 403.2 L754.9 396 L772.1 399 L774.3 400.3 L776.5 401.7 L778.7 402.9 L781 404.2 L783.2 405.4 L785.5 406.6 L787.8 407.8 L790.1 409 L792.4 410.1 L794.7 411.3 L797 412.4 L799.4 413.4 L801.7 414.5 L804.1 415.5 L806.5 416.5 L808.8 417.5 L811.2 418.5 L813.6 419.5 L816.1 420.4 L818.5 421.4 L820.9 422.3 L823.3 423.2 L825.8 424 L828.2 424.9 L830.6 425.8 L833.1 426.6 L835.6 427.4 L838 428.2 L840.5 429 L842.9 429.8 L845.4 430.6 L847.9 431.3 L850.3 432.1 L852.8 432.8 L855.3 433.6 L857.7 434.3 L860.2 435 L862.6 435.7 L865.1 436.4 L867.5 437.1 L870 437.8 L873 438.2 L875.5 446.5 L877.8 447.5 L880.1 448.5 L882.3 449.5 L884.6 450.5 L886.9 451.5 L889.2 452.6 L891.4 453.6 L893.7 454.7 L895.9 455.8 L898.1 457 L900.4 458.1 L902.6 459.3 L904.8 460.4 L907 461.6 L909.2 462.9 L911.4 464.1 L913.6 465.3 L915.8 466.6 L917.9 467.9 L920.1 469.2 L922.2 470.5 L924.4 471.9 L926.5 473.2 L928.6 474.6 L930.7 476 L932.8 477.4 L934.8 478.8 L936.9 480.3 L938.9 481.7 L941 483.2 L943 484.7 L945 486.2 L947 487.8 L948.9 489.3 L950.9 490.9 L952.8 492.5 L954.7 494.1 L956.6 495.7 L958.5 497.4 L960.4 499 L962.2 500.7 L964.1 502.4 L965.9 504.1 L967.7 505.9 L969.5 507.6 L971.2 509.4 L972.9 511.2 L974.6 513 L976.3 514.8 L978 516.7 L979.7 518.6 L981.3 520.4 L982.9 522.3 L984.5 524.3 L986.1 526.2 L987.6 528.2 L989.1 530.1 L990.6 532.1 L992.1 534.1 L993.6 536.1 L995 538.1 L996.4 540.2 L997.8 542.3 L999.2 544.3 L1000.6 546.4 L1001.9 548.5 L1003.2 550.6 L1004.5 552.8 L1005.8 554.9 L1007 557.1 L1008.3 559.2 L1009.5 561.4 L1010.7 563.6 L1011.8 565.8 L1013 568.1 L1014.1 570.3 L1015.2 572.5 L1016.3 574.8 L1017.3 577.1 L1018.3 579.3 L1019.4 581.6 L1020.4 583.9 L1021.4 586.2 L1022.3 588.5 L1023.3 590.8 L1024.2 593.2 L1025.1 595.5 L1026 597.8 L1026.9 600.2 L1027.8 602.5 L1028.7 604.9 L1029.5 607.2 L1030.4 609.6 L1031.2 612 L1032.1 614.3 L1032.9 616.7 L1033.7 619.1 L1034.5 621.5 L1035.2 623.9 L1036 626.3 L1036.8 628.6 L1037.5 631 L1038.3 633.4 L1039 635.8 L1039.8 638.2 L1040.5 640.6 L1041.2 643 L1041.9 645.4 L1042.6 647.8 L1043.3 650.2 L1044 652.6 L1044.7 655.1 L1045.4 657.5 L1046 659.9 L1046.7 662.3 L1047.3 664.7 L1048 667.1 L1048.6 669.5 L1049.3 672 L1049.9 674.4 L1050.6 676.8 L1051.2 679.2 L1051.8 681.6 L1052.4 684.1 L1053.1 686.5 L1053.7 688.9 L1054.3 691.3 L1054.9 693.8 L1055.5 696.2 L1056.1 698.6 L1056.7 701.1 L1057.3 703.5 L1057.9 705.9 L1058.5 708.3 L1059.1 710.8 L1059.7 713.2 L1060.3 715.6 L1060.9 718.1 L1061.5 720.5 L1062.1 722.9 L1062.7 725.4 L1063.2 727.8 L1063.8 730.2 L1064.4 732.6 L1065 735.1 L1065.6 737.5 L1066.2 739.9 L1066.8 742.4 L1067.4 744.8 L1068 747.2 L1068.6 749.6 L1069.2 752.1 L1069.8 754.5 L1070.4 756.9 L1071 759.4 L1071.7 761.8 L1072.3 764.2 L1072.9 766.6 L1073.5 769 L1074.1 771.5 L1074.7 773.9 L1075.4 776.3 L1076 778.7 L1076.6 781.2 L1077.2 783.6 L1077.9 786 L1078.5 788.4 L1079.1 790.8 L1079.7 793.3 L1080.4 795.7 L1081 798.1 L1081.6 800.5 L1082.3 803 L1082.9 805.4 L1083.5 807.8 L1084.2 810.2 L1084.8 812.6 L1085.4 815.1 L1086 817.5 L1086.7 819.9 L1087.3 822.3 L1087.9 824.7 L1088.5 827.2 L1089.2 829.6 L1089.8 832 L1090.4 834.4 L1091 836.9 L1091.6 839.3 L1092.3 841.7 L1092.9 844.1 L1093.5 846.6 L1094.1 849 L1094.7 851.4 L1095.3 853.8 L1095.9 856.3 L1096.5 858.7 L1097.1 861.1 L1097.7 863.6 L1098.3 866 L1098.9 868.4 L1099.5 870.8 L1100.1 873.3 L1100.7 875.7 L1101.3 878.1 L1101.9 880.6 L1102.5 883 L1103 885.4 L1103.6 887.9 L1104.2 890.3 L1104.8 892.7 L1105.3 895.2 L1105.9 897.6 L1106.5 900.1 L1107.1 902.5 L1107.6 904.9 L1108.2 907.4 L1108.8 909.8 L1109.3 912.2 L1109.9 914.7 L1110.5 917.1 L1111 919.6 L1111.6 922 L1112.2 924.4 L1112.7 926.9 L1113.3 929.3 L1113.8 931.8 L1114.4 934.2 L1115 936.7 L1115.5 939.1 L1116.1 941.5 L1116.6 944 L1117.2 946.4 L1117.7 948.9 L1118.3 951.3 L1118.8 953.8 L1119.4 956.2 L1120 958.6 L1120.5 961.1 L1121.1 963.5 L1121.6 966 L1122.2 968.4 L1122.7 970.9 L1123.3 973.3 L1123.8 975.7 L1124.4 978.2 L1124.9 980.6 L1125.5 983.1 L1126.1 985.5 L1126.6 988 L1127.2 990.4 L1127.7 992.8 L1128.3 995.3 L1128.8 997.7 L1129.4 1000.2 L1130 1002.6 L1130.5 1005.1 L1131.1 1007.5 L1131.6 1009.9 L1132.2 1012.4 L1132.8 1014.8 L1133.3 1017.3 L1133.9 1019.7 L1134.5 1022.1 L1135 1024.6 L1135.6 1027 L1136.2 1029.5 L1136.8 1031.9 L1137.3 1034.3 L1137.9 1036.8 L1138.5 1039.2 L1139.1 1041.7 L1139.6 1044.1 L1140.2 1046.5 L1140.8 1049 L1141.4 1051.4 L1142 1053.8 L1142.6 1056.3 L1143.2 1058.7 L1143.8 1061.2 L1144.4 1063.6 L1145 1066 L1145.6 1068.4 L1146.2 1070.9 L1146.8 1073.3 L1147.4 1075.7 L1148.1 1078.1 L1148.7 1080.6 L1149.4 1083 L1150 1085.4 L1150.7 1087.8 L1151.3 1090.2 L1152 1092.6 L1152.7 1095 L1153.4 1097.4 L1154.1 1099.8 L1154.8 1102.2 L1155.5 1104.6 L1156.3 1107 L1157 1109.4 L1157.8 1111.8 L1158.6 1114.1 L1159.3 1116.5 L1160.1 1118.9 L1161 1121.2 L1161.8 1123.6 L1162.6 1126 L1163.5 1128.3 L1164.3 1130.6 L1165.2 1133 L1166.1 1135.3 L1167 1137.6 L1168 1139.9 L1168.9 1142.3 L1169.9 1144.6 L1170.9 1146.9 L1171.9 1149.2 L1172.9 1151.4 L1173.9 1153.7 L1175 1156 L1176 1158.3 L1177.1 1160.5 L1178.2 1162.8 L1179.3 1165 L1180.5 1167.3 L1181.6 1169.5 L1182.8 1171.7 L1184 1173.9 L1185.2 1176.1 L1186.4 1178.3 L1187.6 1180.5 L1188.8 1182.7 L1190.1 1184.9 L1191.4 1187 L1192.7 1189.2 L1194 1191.3 L1195.3 1193.5 L1196.6 1195.6 L1198 1197.7 L1199.3 1199.8 L1200.7 1201.9 L1202.1 1204 L1203.5 1206.1 L1204.9 1208.2 L1206.4 1210.2 L1207.8 1212.3 L1209.3 1214.3 L1210.8 1216.4 L1212.3 1218.4 L1213.8 1220.4 L1215.3 1222.4 L1216.9 1224.3 L1218.5 1226.3 L1220.1 1228.2 L1221.7 1230.2 L1223.3 1232.1 L1224.9 1234 L1226.6 1235.8 L1228.3 1237.7 L1230 1239.5 L1231.7 1241.4 L1233.5 1243.2 L1235.2 1244.9 L1237 1246.7 L1238.8 1248.4 L1240.6 1250.2 L1242.5 1251.9 L1244.3 1253.6 L1246.2 1255.2 L1248.1 1256.9 L1250 1258.5 L1251.9 1260.1 L1253.9 1261.7 L1255.8 1263.2 L1257.8 1264.7 L1259.8 1266.3 L1261.8 1267.8 L1263.9 1269.2 L1265.9 1270.7 L1268 1272.1 L1270 1273.5 L1272.1 1274.9 L1274.2 1276.2 L1276.3 1277.6 L1278.5 1278.9 L1280.6 1280.2 L1282.8 1281.4 L1284.9 1282.7 L1287.1 1283.9 L1289.3 1285.1 L1291.5 1286.3 L1293.7 1287.4 L1295.9 1288.5 L1298.2 1289.6 L1300.4 1290.7 L1302.7 1291.7 L1305 1292.7 L1307.2 1293.7 L1309.5 1294.7 L1311.8 1295.7 L1314.1 1296.6 L1316.5 1297.5 L1318.8 1298.4 L1321.1 1299.2 L1323.5 1300.1 L1325.8 1300.9 L1328.2 1301.7 L1330.6 1302.5 L1332.9 1303.2 L1335.3 1304 L1337.7 1304.7 L1340.1 1305.4 L1342.5 1306.1 L1344.9 1306.8 L1347.3 1307.4 L1349.7 1308.1 L1352.2 1308.7 L1354.6 1309.3 L1357 1309.9 L1359.5 1310.5 L1361.9 1311.1 L1364.4 1311.7 L1366.8 1312.2 L1369.3 1312.8 L1371.7 1313.3 L1374.2 1313.8 L1376.7 1314.3 L1379.1 1314.8 L1381.6 1315.3 L1384.1 1315.8 L1386.6 1316.2 L1389 1316.7 L1391.5 1317.2 L1394 1317.6 L1396.5 1318.1 L1399 1318.5 L1401.4 1318.9 L1403.9 1319.4 L1406.4 1319.8 L1408.9 1320.2 L1411.4 1320.6 L1413.9 1321 L1416.3 1321.4 L1418.8 1321.8 L1421.3 1322.2 L1423.8 1322.6 L1426.3 1323 L1428.8 1323.4 L1431.2 1323.7 L1433.7 1324.1 L1436.2 1324.5 L1438.7 1324.8 L1441.2 1325.2 L1443.7 1325.5 L1446.2 1325.9 L1448.6 1326.2 L1451.1 1326.6 L1453.6 1326.9 L1456.1 1327.2 L1458.6 1327.6 L1461.1 1327.9 L1463.6 1328.2 L1466.1 1328.5 L1468.6 1328.8 L1471 1329.2 L1473.5 1329.5 L1476 1329.8 L1478.5 1330.1 L1481 1330.3 L1483.5 1330.6 L1486 1330.9 L1488.5 1331.2 L1491 1331.5 L1493.5 1331.8 L1496 1332 L1498.4 1332.3 L1500.9 1332.6 L1503.4 1332.8 L1505.9 1333.1 L1508.4 1333.3 L1510.9 1333.6 L1513.4 1333.8 L1515.9 1334.1 L1518.4 1334.3 L1520.9 1334.6 L1523.4 1334.8 L1525.9 1335 L1528.4 1335.3 L1530.9 1335.5 L1533.4 1335.7 L1535.8 1336 L1538.3 1336.2 L1540.8 1336.4 L1543.3 1336.6 L1545.8 1336.8 L1548.3 1337 L1550.8 1337.2 L1553.3 1337.4 L1555.8 1337.6 L1558.3 1337.9 L1560.8 1338.1 L1563.3 1338.2 L1565.8 1338.4 L1568.3 1338.6 L1570.8 1338.8 L1573.3 1339 L1575.8 1339.2 L1578.3 1339.4 L1580.8 1339.6 L1583.3 1339.8 L1585.8 1339.9 L1588.3 1340.1 L1590.8 1340.3 L1593.3 1340.5 L1595.8 1340.6 L1598.3 1340.8 L1600.8 1341 L1603.3 1341.1 L1605.8 1341.3 L1608.3 1341.5 L1610.8 1341.6 L1613.3 1341.8 L1615.8 1342 L1618.3 1342.1 L1620.8 1342.3 L1623.2 1342.5 L1625.7 1342.6 L1628.2 1342.8 L1630.7 1342.9 L1633.2 1343.1 L1635.7 1343.2 L1638.2 1343.4 L1640.7 1343.5 L1643.2 1343.7 L1645.7 1343.8 L1648.2 1344 L1650.7 1344.1 L1653.2 1344.3 L1655.7 1344.4 L1658.2 1344.6 L1660.7 1344.7 L1663.2 1344.9 L1665.7 1345 L1668.2 1345.2 L1670.7 1345.3 L1673.2 1345.5 L1675.7 1345.6 L1678.2 1345.8 L1680.7 1345.9 L1683.2 1346.1 L1685.7 1346.2 L1688.2 1346.4 L1690.7 1346.5 L1693.2 1346.7 L1695.7 1346.8 L1698.2 1346.9 L1700.7 1347.1 L1703.2 1347.2 L1705.7 1347.4 L1708.2 1347.5 L1710.7 1347.7 L1713.2 1347.8 L1715.7 1348 L1718.2 1348.1 L1720.7 1348.3 L1723.2 1348.5 L1725.7 1348.6 L1728.2 1348.8 L1730.7 1348.9 L1733.2 1349.1 L1735.7 1349.2 L1738.2 1349.4 L1740.7 1349.6 L1743.2 1349.7 L1745.7 1349.9 L1748.2 1350 L1750.7 1350.2 L1753.2 1350.4 L1755.7 1350.5 L1758.2 1350.7 L1760.7 1350.9 L1763.2 1351 L1765.7 1351.2 L1768.2 1351.4 L1770.7 1351.6 L1773.2 1351.7 L1775.7 1351.9 L1778.2 1352.1 L1780.7 1352.3 L1783.2 1352.5 L1785.7 1352.7 L1788.2 1352.9 L1790.7 1353 L1793.1 1353.2 L1795.6 1353.4 L1798.1 1353.6 L1800.6 1353.8 L1803.1 1354 L1805.6 1354.2 L1808.1 1354.4 L1810.6 1354.6 L1813.1 1354.9 L1815.6 1355.1 L1818.1 1355.3 L1820.6 1355.5 L1823.1 1355.7 L1825.6 1355.9 L1828.1 1356.2 L1830.6 1356.4 L1833.1 1356.6 L1835.6 1356.9 L1838 1357.1 L1840.5 1357.3 L1843 1357.6 L1845.5 1357.8 L1848 1358.1 L1850.5 1358.3 L1853 1358.6 L1855.5 1358.8 L1858 1359.1 L1860.5 1359.4 L1863 1359.6 L1865.5 1359.9 L1867.9 1360.2 L1870.4 1360.4 L1872.9 1360.7 L1875.4 1361 L1877.9 1361.3 L1880.4 1361.6 L1882.9 1361.9 L1885.4 1362.1 L1887.9 1362.4 L1890.4 1362.7 L1892.8 1363 L1895.3 1363.3 L1897.8 1363.6 L1900.3 1363.9 L1902.8 1364.2 L1905.3 1364.5 L1907.8 1364.8 L1910.3 1365.1 L1912.8 1365.4 L1915.2 1365.7 L1917.7 1366 L1920.2 1366.3 L1922.7 1366.7 L1925.2 1367 L1927.7 1367.3 L1930.2 1367.6 L1932.7 1367.9 L1935.1 1368.2 L1937.6 1368.5 L1940.1 1368.8 L1942.6 1369.2 L1945.1 1369.5 L1947.6 1369.8 L1950.1 1370.1 L1952.5 1370.4 L1955 1370.7 L1957.5 1371 L1960 1371.4 L1962.5 1371.7 L1965 1372 L1967.5 1372.3 L1970 1372.6 L1972.4 1372.9 L1974.9 1373.2 L1977.4 1373.5 L1979.9 1373.8 L1982.4 1374.1 L1984.9 1374.5 L1987.4 1374.8 L1989.8 1375.1 L1992.3 1375.4 L1994.8 1375.7 L1997.3 1376 L1999.8 1376.3 L2002.3 1376.6 L2004.8 1376.9 L2007.3 1377.2 L2009.7 1377.4 L2012.2 1377.7 L2014.7 1378 L2017.2 1378.3 L2019.7 1378.6 L2022.2 1378.9 L2024.7 1379.2 L2027.2 1379.4 L2029.6 1379.7 L2032.1 1380 L2034.6 1380.2 L2037.1 1380.5 L2039.6 1380.8 L2042.1 1381 L2044.6 1381.3 L2047.1 1381.5 L2049.6 1381.8 L2052 1382 L2054.5 1382.3 L2057 1382.5 L2059.5 1382.8 L2062 1383" fill="none" stroke="#c46ee4" stroke-width="4.6" stroke-linejoin="round" stroke-linecap="butt"/>
</g>
<g stroke="#000" stroke-width="4.6" fill="none" stroke-linecap="butt">
<path d="M366.4 43 V1439.7"/>
<path d="M338.4 1413.7 H2065.6"/>
<path d="M352.4 45.3 H2065.6"/>
<path d="M2063.3 43 V1426.7"/>
<path d="M353.4 1341.7 H366.4"/>
<path d="M340.4 1269.7 H366.4"/>
<path d="M353.4 1197.6 H366.4"/>
<path d="M340.4 1125.6 H366.4"/>
<path d="M353.4 1053.6 H366.4"/>
<path d="M340.4 981.6 H366.4"/>
<path d="M353.4 909.6 H366.4"/>
<path d="M340.4 837.5 H366.4"/>
<path d="M353.4 765.5 H366.4"/>
<path d="M340.4 693.5 H366.4"/>
<path d="M353.4 621.5 H366.4"/>
<path d="M340.4 549.5 H366.4"/>
<path d="M353.4 477.4 H366.4"/>
<path d="M340.4 405.4 H366.4"/>
<path d="M353.4 333.4 H366.4"/>
<path d="M340.4 261.4 H366.4"/>
<path d="M353.4 189.4 H366.4"/>
<path d="M340.4 117.3 H366.4"/>
<path d="M479.5 1413.7 V1426.7"/>
<path d="M592.6 1413.7 V1439.7"/>
<path d="M705.7 1413.7 V1426.7"/>
<path d="M818.8 1413.7 V1439.7"/>
<path d="M931.9 1413.7 V1426.7"/>
<path d="M1045 1413.7 V1439.7"/>
<path d="M1158.1 1413.7 V1426.7"/>
<path d="M1271.2 1413.7 V1439.7"/>
<path d="M1384.3 1413.7 V1426.7"/>
<path d="M1497.4 1413.7 V1439.7"/>
<path d="M1610.5 1413.7 V1426.7"/>
<path d="M1723.6 1413.7 V1439.7"/>
<path d="M1836.7 1413.7 V1426.7"/>
<path d="M1949.8 1413.7 V1439.7"/>
</g>
<text transform="translate(321.5 1431.3) scale(1 1.04)" font-family="'Liberation Sans', Arial, sans-serif" font-size="58" fill="#000" text-anchor="end">0</text>
<text transform="translate(321.5 1287.3) scale(1 1.04)" font-family="'Liberation Sans', Arial, sans-serif" font-size="58" fill="#000" text-anchor="end">200</text>
<text transform="translate(321.5 1143.2) scale(1 1.04)" font-family="'Liberation Sans', Arial, sans-serif" font-size="58" fill="#000" text-anchor="end">400</text>
<text transform="translate(321.5 999.2) scale(1 1.04)" font-family="'Liberation Sans', Arial, sans-serif" font-size="58" fill="#000" text-anchor="end">600</text>
<text transform="translate(321.5 855.1) scale(1 1.04)" font-family="'Liberation Sans', Arial, sans-serif" font-size="58" fill="#000" text-anchor="end">800</text>
<text transform="translate(321.5 711.1) scale(1 1.04)" font-family="'Liberation Sans', Arial, sans-serif" font-size="58" fill="#000" text-anchor="end">1000</text>
<text transform="translate(321.5 567.1) scale(1 1.04)" font-family="'Liberation Sans', Arial, sans-serif" font-size="58" fill="#000" text-anchor="end">1200</text>
<text transform="translate(321.5 423) scale(1 1.04)" font-family="'Liberation Sans', Arial, sans-serif" font-size="58" fill="#000" text-anchor="end">1400</text>
<text transform="translate(321.5 279) scale(1 1.04)" font-family="'Liberation Sans', Arial, sans-serif" font-size="58" fill="#000" text-anchor="end">1600</text>
<text transform="translate(321.5 134.9) scale(1 1.04)" font-family="'Liberation Sans', Arial, sans-serif" font-size="58" fill="#000" text-anchor="end">1800</text>
<text transform="translate(294.2 1501.6) scale(1 1.04)" font-family="'Liberation Sans', Arial, sans-serif" font-size="58" fill="#000">−100</text>
<text transform="translate(539.5 1501.6) scale(1 1.04)" font-family="'Liberation Sans', Arial, sans-serif" font-size="58" fill="#000">−80</text>
<text transform="translate(760.3 1501.6) scale(1 1.04)" font-family="'Liberation Sans', Arial, sans-serif" font-size="58" fill="#000">−60</text>
<text transform="translate(991.8 1501.6) scale(1 1.04)" font-family="'Liberation Sans', Arial, sans-serif" font-size="58" fill="#000">−40</text>
<text transform="translate(1213.5 1501.6) scale(1 1.04)" font-family="'Liberation Sans', Arial, sans-serif" font-size="58" fill="#000">−20</text>
<text transform="translate(1481.2 1501.6) scale(1 1.04)" font-family="'Liberation Sans', Arial, sans-serif" font-size="58" fill="#000">0</text>
<text transform="translate(1692.1 1501.6) scale(1 1.04)" font-family="'Liberation Sans', Arial, sans-serif" font-size="58" fill="#000">20</text>
<text transform="translate(1913.9 1501.6) scale(1 1.04)" font-family="'Liberation Sans', Arial, sans-serif" font-size="58" fill="#000">40</text>
<text transform="translate(940 1589) scale(1 1.04)" font-family="'Liberation Sans', Arial, sans-serif" font-size="71.5" fill="#000">Temperature (<tspan font-size="62" dy="-4.5">º</tspan><tspan dy="4.5">C)</tspan></text>
<text transform="translate(114.5 1066.5) rotate(-90) scale(1 1.04)" font-family="'Liberation Sans', Arial, sans-serif" font-size="71.3" fill="#000">Storage modulus (MPa)</text>
<rect x="1551.2" y="64.9" width="496.6" height="257" fill="none" stroke="#6a6a6a" stroke-width="2.8"/>
<path d="M1558.6 111.3 H1712.6" stroke="#3c3c3c" stroke-width="4.5"/>
<path d="M1558.6 194.2 H1712.6" stroke="#c46ee4" stroke-width="4.5"/>
<path d="M1558.6 276.1 H1712.6" stroke="#ff3a44" stroke-width="4.5"/>
<text transform="translate(1728.5 134.4) scale(1 1.04)" font-family="'Liberation Sans', Arial, sans-serif" font-size="68" fill="#000">Bio-HDPE</text>
<text transform="translate(1729.5 216.5) scale(1 1.04)" font-family="'Liberation Sans', Arial, sans-serif" font-size="68" fill="#000">20T</text>
<text transform="translate(1729.5 298.3) scale(1 1.04)" font-family="'Liberation Sans', Arial, sans-serif" font-size="68" fill="#000">20UT</text>
<g stroke="#000" stroke-width="4.2" fill="none">
<path d="M1485.9 1262 H2030" stroke-dasharray="25 21.9"/>
<path d="M1488 1259.5 V1404" stroke-dasharray="25 21.9"/>
<path d="M1485.9 1404 H2020" stroke-dasharray="24.6 22.2" stroke-dashoffset="10"/>
<path d="M2048 1260 L2056 1280 M2054 1303 V1327 M2054 1349 V1373 M2037 1406 L2057 1397"/>
</g>
<path d="M1473 1367.8 L1068 1272.4" stroke="#404040" stroke-width="2.2" fill="none"/>
<path d="M1034.6 1264.4 L1072 1264.1 L1068 1280.7 Z" fill="#000"/>
<g>
<rect x="450.8" y="631.2" width="562.4" height="708.2" fill="none" stroke="#4a4a4a" stroke-width="2.8"/>
<path d="M451.2 807.4 L453 809.2 L454.7 811 L456.5 812.8 L458.3 814.5 L460.1 816.3 L461.9 818.1 L463.7 819.8 L465.5 821.6 L467.3 823.3 L469.1 825 L471 826.8 L472.8 828.5 L474.6 830.2 L476.5 831.9 L478.3 833.6 L480.1 835.3 L482 837 L483.9 838.7 L485.7 840.4 L487.6 842 L489.5 843.7 L491.3 845.4 L493.2 847 L495.1 848.7 L497 850.3 L498.9 852 L500.8 853.6 L502.7 855.2 L504.6 856.9 L506.5 858.5 L508.5 860.1 L510.4 861.7 L512.3 863.3 L514.3 864.9 L516.2 866.5 L518.1 868.1 L520.1 869.7 L522 871.2 L524 872.8 L525.9 874.4 L527.9 875.9 L529.9 877.5 L531.8 879 L533.8 880.6 L535.8 882.1 L537.8 883.7 L539.7 885.2 L541.7 886.7 L543.7 888.3 L545.7 889.8 L547.7 891.3 L549.7 892.8 L551.7 894.3 L553.7 895.8 L555.7 897.3 L557.8 898.8 L559.8 900.3 L561.8 901.8 L563.8 903.3 L565.8 904.8 L567.9 906.2 L569.9 907.7 L571.9 909.2 L574 910.6 L576 912.1 L578 913.5 L580.1 915 L582.1 916.5 L584.2 917.9 L586.2 919.3 L588.3 920.8 L590.4 922.2 L592.4 923.6 L594.5 925.1 L596.5 926.5 L598.6 927.9 L600.7 929.3 L602.7 930.8 L604.8 932.2 L606.9 933.6 L609 935 L611 936.4 L613.1 937.8 L615.2 939.2 L617.3 940.6 L619.4 942 L621.5 943.4 L623.5 944.8 L625.6 946.2 L627.7 947.5 L629.8 948.9 L631.9 950.3 L634 951.7 L636.1 953.1 L638.2 954.4 L640.3 955.8 L642.4 957.2 L644.5 958.5 L646.6 959.9 L648.7 961.3 L650.8 962.6 L652.9 964 L655 965.3 L657.1 966.7 L659.3 968 L661.4 969.4 L663.5 970.7 L665.6 972.1 L667.7 973.4 L669.8 974.7 L672 976.1 L674.1 977.4 L676.2 978.7 L678.3 980.1 L680.5 981.4 L682.6 982.7 L684.7 984.1 L686.9 985.4 L689 986.7 L691.1 988 L693.3 989.4 L695.4 990.7 L697.6 992 L699.7 993.3 L701.8 994.6 L704 995.9 L706.1 997.2 L708.3 998.5 L710.4 999.9 L712.6 1001.2 L714.7 1002.5 L716.9 1003.8 L719 1005.1 L721.2 1006.4 L723.4 1007.7 L725.5 1009 L727.7 1010.3 L729.8 1011.6 L732 1012.9 L734.2 1014.1 L736.3 1015.4 L738.5 1016.7 L740.7 1018 L742.8 1019.3 L745 1020.6 L747.2 1021.9 L749.3 1023.2 L751.5 1024.5 L753.7 1025.8 L755.8 1027.1 L758 1028.4 L760.2 1029.7 L762.3 1031 L764.5 1032.3 L766.6 1033.6 L768.8 1034.9 L770.9 1036.3 L773 1037.6 L775.2 1039 L777.3 1040.3 L779.4 1041.7 L781.5 1043.1 L783.6 1044.5 L785.7 1045.9 L787.7 1047.3 L789.8 1048.7 L791.9 1050.1 L793.9 1051.6 L795.9 1053 L798 1054.5 L800 1056 L802 1057.5 L804 1059 L805.9 1060.5 L807.9 1062.1 L809.8 1063.6 L811.8 1065.2 L813.7 1066.8 L815.6 1068.4 L817.5 1070 L819.4 1071.7 L821.3 1073.3 L823.1 1075 L825 1076.6 L826.8 1078.3 L828.6 1080 L830.5 1081.7 L832.3 1083.4 L834.1 1085.2 L835.8 1086.9 L837.6 1088.7 L839.4 1090.5 L841.1 1092.2 L842.8 1094 L844.6 1095.8 L846.3 1097.7 L848 1099.5 L849.7 1101.3 L851.4 1103.2 L853 1105 L854.7 1106.9 L856.3 1108.8 L858 1110.7 L859.6 1112.6 L861.2 1114.5 L862.8 1116.4 L864.4 1118.3 L866 1120.3 L867.6 1122.2 L869.1 1124.2 L870.7 1126.2 L872.2 1128.1 L873.7 1130.1 L875.3 1132.1 L876.8 1134.1 L878.3 1136.1 L879.8 1138.2 L881.3 1140.2 L882.7 1142.2 L884.2 1144.3 L885.6 1146.3 L887.1 1148.4 L888.5 1150.5 L889.9 1152.5 L891.4 1154.6 L892.8 1156.7 L894.2 1158.8 L895.6 1160.9 L897 1163 L898.3 1165.1 L899.7 1167.2 L901.1 1169.3 L902.5 1171.4 L903.9 1173.5 L905.3 1175.6 L906.6 1177.7 L908 1179.8 L909.4 1181.9 L910.8 1184 L912.2 1186.1 L913.6 1188.2 L915 1190.3 L916.4 1192.4 L917.8 1194.5 L919.2 1196.6 L920.6 1198.6 L922 1200.7 L923.5 1202.7 L924.9 1204.8 L926.4 1206.8 L927.9 1208.9 L929.4 1210.9 L930.9 1212.9 L932.4 1214.9 L933.9 1216.9 L935.4 1218.9 L937 1220.9 L938.5 1222.8 L940.1 1224.8 L941.7 1226.7 L943.3 1228.7 L944.9 1230.6 L946.5 1232.5 L948.1 1234.4 L949.7 1236.3 L951.4 1238.2 L953 1240.1 L954.7 1242 L956.4 1243.8 L958.1 1245.7 L959.8 1247.5 L961.5 1249.3 L963.2 1251.1 L965 1252.9 L966.7 1254.7 L968.5 1256.5 L970.3 1258.3 L972 1260 L973.8 1261.8 L975.7 1263.5 L977.5 1265.2 L979.3 1266.9 L981.2 1268.6 L983 1270.3 L984.9 1272 L986.8 1273.6 L988.7 1275.3 L990.6 1276.9 L992.5 1278.5 L994.5 1280.1 L996.4 1281.7 L998.4 1283.3 L1000.4 1284.9 L1002.4 1286.4 L1004.4 1288 L1006.4 1289.5 L1008.4 1291 L1010.4 1292.5 L1012.5 1294" fill="none" stroke="#3c3c3c" stroke-width="4.6" stroke-linejoin="round" stroke-linecap="butt"/>
<path d="M451.2 773.1 L453 774.8 L454.9 776.6 L456.7 778.3 L458.6 780 L460.4 781.8 L462.3 783.5 L464.1 785.2 L466 786.9 L467.9 788.7 L469.7 790.4 L471.6 792.1 L473.5 793.8 L475.4 795.5 L477.2 797.2 L479.1 798.9 L481 800.6 L482.9 802.2 L484.8 803.9 L486.7 805.6 L488.6 807.3 L490.5 808.9 L492.4 810.6 L494.3 812.3 L496.2 813.9 L498.1 815.6 L500 817.2 L502 818.9 L503.9 820.5 L505.8 822.2 L507.8 823.8 L509.7 825.4 L511.6 827.1 L513.6 828.7 L515.5 830.3 L517.5 831.9 L519.4 833.5 L521.4 835.1 L523.3 836.7 L525.3 838.3 L527.2 839.9 L529.2 841.5 L531.2 843.1 L533.1 844.7 L535.1 846.3 L537.1 847.9 L539.1 849.4 L541.1 851 L543.1 852.6 L545 854.1 L547 855.7 L549 857.2 L551 858.8 L553 860.3 L555 861.8 L557.1 863.4 L559.1 864.9 L561.1 866.4 L563.1 868 L565.1 869.5 L567.2 871 L569.2 872.5 L571.2 874 L573.2 875.5 L575.3 877 L577.3 878.5 L579.4 880 L581.4 881.5 L583.5 882.9 L585.5 884.4 L587.6 885.9 L589.6 887.3 L591.7 888.8 L593.8 890.3 L595.8 891.7 L597.9 893.2 L600 894.6 L602.1 896 L604.2 897.5 L606.2 898.9 L608.3 900.3 L610.4 901.7 L612.5 903.2 L614.6 904.6 L616.7 906 L618.8 907.4 L620.9 908.8 L623 910.2 L625.1 911.6 L627.3 912.9 L629.4 914.3 L631.5 915.7 L633.6 917.1 L635.8 918.4 L637.9 919.8 L640 921.1 L642.2 922.5 L644.3 923.8 L646.5 925.2 L648.6 926.5 L650.8 927.9 L652.9 929.2 L655.1 930.5 L657.2 931.8 L659.4 933.1 L661.6 934.4 L663.7 935.7 L665.9 937 L668.1 938.3 L670.3 939.6 L672.4 940.9 L674.6 942.2 L676.8 943.5 L679 944.7 L681.2 946 L683.4 947.3 L685.6 948.5 L687.8 949.8 L690 951 L696 953 L699 957 L703 956.5 L707 962 L710 963 L713.5 979 L716 967 L722 970 L727 973.5 L733 976 L738 981 L744 983 L748 986 L750.5 979.5 L753 988 L757 992 L762.5 999 L766 1001 L767.5 1012 L770 1004 L775 1007 L781 1010.5 L783.1 1012 L785.1 1013.5 L787.1 1015.1 L789.1 1016.7 L791.1 1018.3 L793.1 1019.9 L795 1021.5 L797 1023.1 L798.9 1024.8 L800.8 1026.4 L802.6 1028.1 L804.5 1029.8 L806.4 1031.6 L808.2 1033.3 L810 1035 L811.8 1036.8 L813.6 1038.6 L815.3 1040.4 L817.1 1042.2 L818.8 1044 L820.5 1045.8 L822.2 1047.7 L823.9 1049.5 L825.6 1051.4 L827.3 1053.3 L828.9 1055.1 L830.6 1057 L832.2 1059 L833.8 1060.9 L835.4 1062.8 L837 1064.8 L838.6 1066.7 L840.2 1068.7 L841.8 1070.6 L843.3 1072.6 L844.9 1074.6 L846.4 1076.6 L847.9 1078.6 L849.4 1080.6 L850.9 1082.7 L852.4 1084.7 L853.9 1086.7 L855.4 1088.8 L856.9 1090.8 L858.4 1092.9 L859.8 1094.9 L861.3 1097 L862.8 1099 L864.2 1101.1 L865.6 1103.2 L867.1 1105.3 L868.5 1107.4 L870 1109.5 L871.4 1111.6 L872.8 1113.6 L874.2 1115.7 L875.6 1117.8 L877.1 1119.9 L878.5 1122.1 L879.9 1124.2 L881.3 1126.3 L882.7 1128.4 L884.1 1130.5 L885.5 1132.6 L887 1134.7 L888.4 1136.8 L889.8 1138.9 L891.2 1141 L892.6 1143.1 L894 1145.2 L895.5 1147.3 L896.9 1149.4 L898.3 1151.5 L899.8 1153.6 L901.2 1155.7 L902.6 1157.8 L904.1 1159.8 L905.5 1161.9 L907 1164 L908.5 1166 L909.9 1168.1 L911.4 1170.2 L912.9 1172.2 L914.4 1174.3 L915.9 1176.3 L917.4 1178.3 L918.9 1180.3 L920.4 1182.4 L922 1184.4 L923.5 1186.4 L925 1188.4 L926.6 1190.4 L928.2 1192.3 L929.7 1194.3 L931.3 1196.3 L932.9 1198.3 L934.5 1200.2 L936.1 1202.2 L937.7 1204.1 L939.3 1206 L941 1207.9 L942.6 1209.9 L944.2 1211.8 L945.9 1213.7 L947.6 1215.6 L949.2 1217.4 L950.9 1219.3 L952.6 1221.2 L954.3 1223 L956 1224.9 L957.8 1226.7 L959.5 1228.5 L961.2 1230.4 L963 1232.2 L964.8 1234 L966.5 1235.8 L968.3 1237.5 L970.1 1239.3 L971.9 1241.1 L973.7 1242.8 L975.6 1244.6 L977.4 1246.3 L979.3 1248 L981.1 1249.7 L983 1251.4 L984.9 1253.1 L986.8 1254.8 L988.7 1256.5 L990.6 1258.1 L992.5 1259.8 L994.5 1261.4 L996.4 1263 L998.4 1264.6 L1000.4 1266.2 L1002.4 1267.8 L1004.4 1269.4 L1006.4 1271 L1008.4 1272.5 L1010.4 1274.1 L1012.5 1275.6" fill="none" stroke="#ff3a44" stroke-width="4.6" stroke-linejoin="round" stroke-linecap="butt"/>
<path d="M451.2 756.5 L453.1 758.1 L455 759.7 L456.9 761.4 L458.8 763 L460.7 764.6 L462.6 766.3 L464.4 767.9 L466.3 769.5 L468.2 771.2 L470.1 772.8 L472 774.5 L473.9 776.1 L475.8 777.8 L477.7 779.4 L479.6 781.1 L481.5 782.7 L483.4 784.4 L485.3 786 L487.2 787.7 L489.1 789.3 L491 791 L492.9 792.6 L494.8 794.3 L496.7 795.9 L498.6 797.5 L500.6 799.2 L502.5 800.8 L504.4 802.5 L506.3 804.1 L508.2 805.7 L510.2 807.4 L512.1 809 L514 810.6 L515.9 812.2 L517.9 813.8 L519.8 815.4 L521.8 817 L523.7 818.6 L525.7 820.2 L527.6 821.8 L529.6 823.4 L531.5 825 L533.5 826.6 L535.4 828.1 L537.4 829.7 L539.4 831.2 L541.4 832.8 L543.3 834.3 L545.3 835.9 L547.3 837.4 L549.3 838.9 L551.3 840.4 L553.3 841.9 L555.3 843.4 L557.3 844.9 L559.3 846.4 L561.3 847.9 L563.3 849.3 L565.4 850.8 L567.4 852.2 L569.4 853.7 L571.5 855.1 L573.5 856.6 L575.5 858 L577.6 859.4 L579.6 860.8 L581.7 862.2 L583.8 863.6 L585.8 865 L587.9 866.4 L589.9 867.8 L592 869.2 L594.1 870.6 L596.2 872 L598.3 873.3 L600.3 874.7 L602.4 876 L604.5 877.4 L606.6 878.8 L608.7 880.1 L610.8 881.4 L612.9 882.8 L615 884.1 L617.1 885.5 L619.2 886.8 L621.3 888.1 L623.5 889.4 L625.6 890.7 L627.7 892.1 L629.8 893.4 L632 894.7 L634.1 896 L636.2 897.3 L638.3 898.6 L640.5 899.9 L642.6 901.2 L644.8 902.5 L646.9 903.8 L649.1 905.1 L651.2 906.4 L653.4 907.7 L655.5 909 L657.7 910.3 L659.8 911.6 L662 912.8 L664.1 914.1 L666.3 915.4 L668.5 916.7 L670.6 918 L672.8 919.3 L674.9 920.6 L677.1 921.9 L679.3 923.1 L681.5 924.4 L683.6 925.7 L685.8 927 L688 928.3 L690.1 929.6 L692.3 930.9 L694.5 932.2 L696.6 933.5 L698.8 934.8 L701 936.1 L703.1 937.4 L705.3 938.7 L707.5 940 L709.6 941.3 L711.8 942.7 L713.9 944 L716.1 945.3 L718.2 946.6 L720.4 948 L722.5 949.3 L724.7 950.6 L726.8 952 L728.9 953.3 L731.1 954.7 L733.2 956 L735.3 957.4 L737.4 958.8 L739.5 960.1 L741.6 961.5 L743.7 962.9 L745.8 964.3 L747.9 965.7 L750 967.1 L752.1 968.5 L754.2 969.9 L756.2 971.3 L758.3 972.8 L760.3 974.2 L762.4 975.6 L764.4 977.1 L766.5 978.5 L768.5 980 L770.5 981.5 L772.5 983 L774.5 984.5 L776.5 986 L778.5 987.5 L780.5 989 L782.5 990.5 L784.4 992 L786.4 993.6 L788.3 995.1 L790.3 996.7 L792.2 998.3 L794.1 999.9 L796 1001.4 L797.9 1003 L799.8 1004.7 L801.7 1006.3 L803.6 1007.9 L805.4 1009.6 L807.3 1011.2 L809.1 1012.9 L810.9 1014.6 L812.7 1016.3 L814.5 1018 L816.3 1019.7 L818.1 1021.4 L819.8 1023.1 L821.6 1024.9 L823.3 1026.7 L825.1 1028.4 L826.8 1030.2 L828.5 1032 L830.1 1033.9 L831.8 1035.7 L833.5 1037.5 L835.1 1039.4 L836.7 1041.3 L838.4 1043.1 L840 1045 L841.5 1047 L843.1 1048.9 L844.7 1050.8 L846.2 1052.8 L847.8 1054.7 L849.3 1056.7 L850.8 1058.7 L852.3 1060.7 L853.8 1062.7 L855.3 1064.7 L856.8 1066.7 L858.3 1068.7 L859.7 1070.8 L861.2 1072.8 L862.6 1074.9 L864.1 1076.9 L865.5 1079 L866.9 1081.1 L868.4 1083.1 L869.8 1085.2 L871.2 1087.3 L872.6 1089.4 L874 1091.5 L875.4 1093.6 L876.8 1095.7 L878.2 1097.8 L879.6 1099.9 L881 1102 L882.4 1104.2 L883.7 1106.3 L885.1 1108.4 L886.5 1110.5 L887.9 1112.6 L889.3 1114.8 L890.7 1116.9 L892.1 1119 L893.4 1121.1 L894.8 1123.2 L896.2 1125.3 L897.6 1127.4 L899 1129.5 L900.4 1131.7 L901.8 1133.8 L903.2 1135.8 L904.7 1137.9 L906.1 1140 L907.5 1142.1 L908.9 1144.2 L910.4 1146.3 L911.8 1148.3 L913.3 1150.4 L914.7 1152.4 L916.2 1154.5 L917.7 1156.5 L919.2 1158.5 L920.7 1160.5 L922.2 1162.6 L923.7 1164.6 L925.2 1166.5 L926.7 1168.5 L928.3 1170.5 L929.9 1172.4 L931.4 1174.4 L933 1176.3 L934.6 1178.2 L936.2 1180.2 L937.8 1182 L939.5 1183.9 L941.1 1185.8 L942.8 1187.7 L944.5 1189.5 L946.2 1191.3 L947.9 1193.1 L949.6 1194.9 L951.3 1196.7 L953.1 1198.5 L954.8 1200.3 L956.6 1202.1 L958.4 1203.8 L960.2 1205.5 L962 1207.3 L963.8 1209 L965.6 1210.7 L967.5 1212.4 L969.3 1214 L971.2 1215.7 L973 1217.4 L974.9 1219 L976.8 1220.7 L978.7 1222.3 L980.6 1223.9 L982.6 1225.5 L984.5 1227.1 L986.4 1228.7 L988.4 1230.3 L990.3 1231.9 L992.3 1233.4 L994.3 1235 L996.3 1236.5 L998.3 1238.1 L1000.3 1239.6 L1002.3 1241.1 L1004.3 1242.6 L1006.4 1244.1 L1008.4 1245.6 L1010.4 1247.1 L1012.5 1248.6" fill="none" stroke="#c46ee4" stroke-width="4.6" stroke-linejoin="round" stroke-linecap="butt"/>
<g stroke="#4a4a4a" stroke-width="2.8">
<path d="M444.8 1339.2 H450.8"/>
<path d="M440.8 1268.3 H450.8"/>
<path d="M444.8 1197.4 H450.8"/>
<path d="M440.8 1126.5 H450.8"/>
<path d="M444.8 1055.6 H450.8"/>
<path d="M440.8 984.7 H450.8"/>
<path d="M444.8 913.8 H450.8"/>
<path d="M440.8 842.9 H450.8"/>
<path d="M444.8 772 H450.8"/>
<path d="M440.8 701.1 H450.8"/>
<path d="M444.8 630.2 H450.8"/>
<path d="M450.8 1339.2 V1349.2"/>
<path d="M563.3 1339.2 V1344.2"/>
<path d="M675.8 1339.2 V1349.2"/>
<path d="M788.2 1339.2 V1344.2"/>
<path d="M900.7 1339.2 V1349.2"/>
<path d="M1013.2 1339.2 V1344.2"/>
</g>
<text transform="translate(433.5 1278.8) scale(1 1.04)" font-family="'Liberation Sans', Arial, sans-serif" font-size="32.4" fill="#222" text-anchor="end">40</text>
<text transform="translate(433.5 1137) scale(1 1.04)" font-family="'Liberation Sans', Arial, sans-serif" font-size="32.4" fill="#222" text-anchor="end">60</text>
<text transform="translate(433.5 995.2) scale(1 1.04)" font-family="'Liberation Sans', Arial, sans-serif" font-size="32.4" fill="#222" text-anchor="end">80</text>
<text transform="translate(433.5 853.4) scale(1 1.04)" font-family="'Liberation Sans', Arial, sans-serif" font-size="32.4" fill="#222" text-anchor="end">100</text>
<text transform="translate(433.5 711.6) scale(1 1.04)" font-family="'Liberation Sans', Arial, sans-serif" font-size="32.4" fill="#222" text-anchor="end">120</text>
<text transform="translate(450.8 1385) scale(1 1.04)" font-family="'Liberation Sans', Arial, sans-serif" font-size="37.5" fill="#222" text-anchor="middle">0</text>
<text transform="translate(675.8 1385) scale(1 1.04)" font-family="'Liberation Sans', Arial, sans-serif" font-size="37.5" fill="#222" text-anchor="middle">20</text>
<text transform="translate(900.7 1385) scale(1 1.04)" font-family="'Liberation Sans', Arial, sans-serif" font-size="37.5" fill="#222" text-anchor="middle">40</text>
</g>
</svg>
</body></html>
